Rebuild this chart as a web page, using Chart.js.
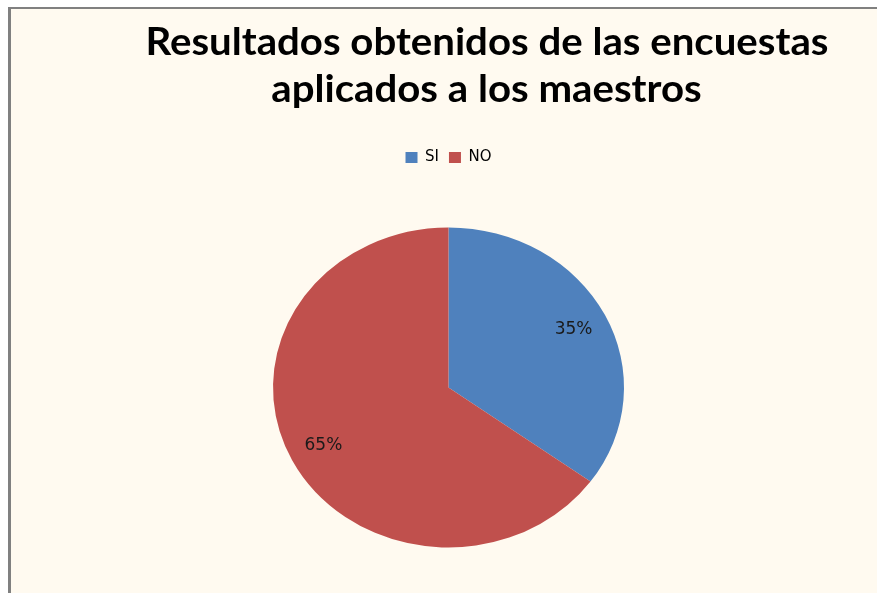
<!DOCTYPE html>
<html>
<head>
<meta charset="utf-8">
<script src="https://cdn.jsdelivr.net/npm/chart.js@4.4.1/dist/chart.umd.min.js"></script>
<style>
  html, body { margin: 0; padding: 0; background: #ffffff; overflow: hidden; }
  #frame { position: absolute; left: 8px; top: 7px; width: 900px; height: 620px;
           background: #fffaf0; border-left: 3px solid #808080; border-top: 2px solid #808080; }
  #title { position: absolute; left: 0; top: 17px; width: 877px; text-align: center;
           font-family: Lato, "Open Sans", sans-serif; font-weight: bold; font-size: 38px;
           line-height: 47px; color: #000; }
  #title span { display: inline-block; transform-origin: center; }
  #wrap { position: absolute; left: 0; top: 0; width: 877px; height: 613px; }
</style>
</head>
<body>
<div id="frame"></div>
<div id="wrap"><canvas id="c" width="877" height="613"></canvas></div>
<div id="title"><span id="t1">Resultados obtenidos de las encuestas</span><br><span id="t2">aplicados a los maestros</span></div>
<script>
const titleLines = ["Resultados obtenidos de las encuestas", "aplicados a los maestros"];
const categories = ["SI", "NO"];
const values = [35, 65];
const colors = ["#4f81bd", "#c0504d"];

document.getElementById('t1').textContent = titleLines[0];
document.getElementById('t2').textContent = titleLines[1];
(function(){
  const t1 = document.getElementById('t1');
  const t2 = document.getElementById('t2');
  const w = t1.getBoundingClientRect().width;
  const s = 683 / w;
  t1.style.transform = 'scaleX(' + s + ')';
  t2.style.transform = 'scaleX(' + s + ')';
  document.getElementById('title').style.left = (487 - 438.5) + 'px';
})();

const RY = 160 / 175.5;

const ellipsePlugin = {
  id: 'ellipse',
  beforeDatasetsDraw(chart) {
    const arc = chart.getDatasetMeta(0).data[0];
    const ctx = chart.ctx;
    ctx.save();
    ctx.translate(arc.x, arc.y);
    ctx.scale(1, RY);
    ctx.translate(-arc.x, -arc.y);
  },
  afterDatasetsDraw(chart) {
    chart.ctx.restore();
    const ctx = chart.ctx;
    const meta = chart.getDatasetMeta(0);
    const total = values.reduce((a, b) => a + b, 0);
    ctx.save();
    ctx.font = '17px "DejaVu Sans", sans-serif';
    ctx.fillStyle = '#1a1a1a';
    ctx.textAlign = 'center';
    ctx.textBaseline = 'middle';
    meta.data.forEach((a, i) => {
      const mid = (a.startAngle + a.endAngle) / 2;
      const r = a.outerRadius * 0.8;
      const x = a.x + Math.cos(mid) * r;
      const y = a.y + Math.sin(mid) * r * RY;
      ctx.fillText(Math.round(values[i] / total * 100) + '%', x, y);
    });
    ctx.restore();
  }
};

new Chart(document.getElementById('c'), {
  type: 'pie',
  data: {
    labels: categories,
    datasets: [{
      data: values,
      backgroundColor: colors,
      borderWidth: 0,
      radius: 175.5,
      clip: false
    }]
  },
  options: {
    responsive: false,
    animation: false,
    layout: { padding: { left: 20, right: 0, top: 140, bottom: 13 } },
    plugins: {
      tooltip: { enabled: false },
      title: { display: false },
      legend: {
        display: true,
        position: 'top',
        labels: {
          boxWidth: 12,
          boxHeight: 11,
          padding: 10,
          color: '#000',
          font: { family: '"DejaVu Sans", sans-serif', size: 15 }
        }
      }
    }
  },
  plugins: [ellipsePlugin]
});
</script>
</body>
</html>
